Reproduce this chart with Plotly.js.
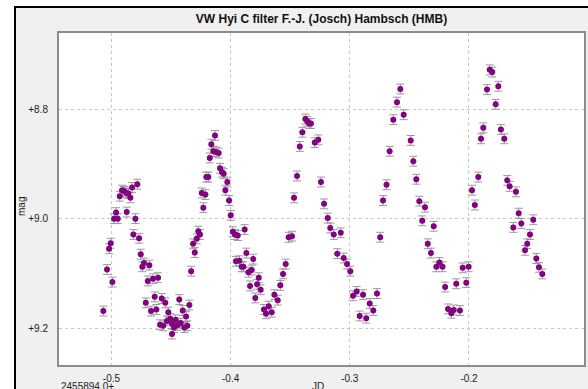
<!DOCTYPE html>
<html>
<head>
<meta charset="utf-8">
<script src="https://cdn.plot.ly/plotly-3.0.1.min.js"></script>
<style>
  html, body { margin: 0; padding: 0; background: #ffffff; width: 588px; height: 389px; overflow: hidden; }
  #frame { position: absolute; left: 14px; top: 6px; width: 600px; height: 400px;
           border-left: 2px solid #000; border-top: 2px solid #000; background: #f0f0f0; }
  #chart { position: absolute; left: 16px; top: 8px; width: 572px; height: 381px; }
</style>
</head>
<body>
<div id="frame"></div>
<div id="chart"></div>
<script>
// Julian date offset from 2455894.0
const jd = [
 -0.5068,-0.5037,-0.5020,-0.5006,-0.4992,-0.4978,-0.4961,-0.4947,-0.4930,-0.4911,
 -0.4892,-0.4872,-0.4872,-0.4858,-0.4841,-0.4827,-0.4816,-0.4799,-0.4783,-0.4768,
 -0.4754,-0.4741,-0.4727,-0.4712,-0.4695,-0.4682,-0.4668,-0.4651,-0.4637,-0.4623,
 -0.4609,-0.4592,-0.4578,-0.4565,-0.4548,-0.4534,-0.4523,-0.4506,-0.4492,-0.4492,
 -0.4475,-0.4461,-0.4447,-0.4431,-0.4419,-0.4402,-0.4389,-0.4374,-0.4363,-0.4346,
 -0.4331,-0.4315,-0.4301,-0.4284,-0.4271,-0.4257,-0.4242,-0.4229,-0.4212,-0.4204,
 -0.4187,-0.4175,-0.4162,-0.4145,-0.4131,-0.4122,-0.4100,-0.4089,-0.4072,-0.4058,
 -0.4044,-0.4028,-0.4013,-0.3999,-0.3982,-0.3963,-0.3955,-0.3940,-0.3927,-0.3907,
 -0.3893,-0.3882,-0.3868,-0.3851,-0.3837,-0.3823,-0.3810,-0.3793,-0.3778,-0.3764,
 -0.3748,-0.3720,-0.3703,-0.3680,-0.3655,-0.3633,-0.3605,-0.3583,-0.3560,-0.3538,
 -0.3513,-0.3485,-0.3468,-0.3443,-0.3420,-0.3398,-0.3373,-0.3357,-0.3342,-0.3326,
 -0.3294,-0.3264,-0.3242,-0.3216,-0.3185,-0.3164,-0.3135,-0.3105,-0.3076,-0.3051,
 -0.3023,-0.2996,-0.2973,-0.2942,-0.2917,-0.2889,-0.2862,-0.2833,-0.2803,-0.2772,
 -0.2745,-0.2721,-0.2692,-0.2666,-0.2635,-0.2604,-0.2576,-0.2548,-0.2489,-0.2467,
 -0.2442,-0.2417,-0.2392,-0.2369,-0.2346,-0.2319,-0.2296,-0.2274,-0.2248,-0.2222,
 -0.2200,-0.2176,-0.2148,-0.2128,-0.2107,-0.2076,-0.2053,-0.2023,-0.2003,-0.1975,
 -0.1951,-0.1922,-0.1899,-0.1880,-0.1849,-0.1826,-0.1805,-0.1776,-0.1754,-0.1732,
 -0.1704,-0.1679,-0.1659,-0.1628,-0.1606,-0.1583,-0.1561,-0.1530,-0.1511,-0.1488,
 -0.1461,-0.1435,-0.1413,-0.1385
];
const mag = [
 9.169,9.093,9.055,9.045,9.116,9.000,8.989,9.000,8.959,8.948,
 8.950,8.953,8.988,8.954,8.962,8.943,9.029,9.000,8.937,9.036,
 9.065,9.088,9.081,9.154,9.114,9.085,9.169,9.110,9.143,9.166,
 9.108,9.194,9.146,9.196,9.154,9.187,9.171,9.183,9.192,9.211,
 9.199,9.185,9.195,9.148,9.191,9.168,9.199,9.179,9.196,9.158,
 9.096,9.046,9.062,9.037,9.023,9.029,8.953,8.980,8.956,8.924,
 8.924,8.889,8.864,8.877,8.848,8.878,8.880,8.908,8.915,8.918,
 8.948,8.933,8.967,8.994,9.024,9.029,9.078,9.031,9.077,9.088,
 9.088,9.020,9.063,9.098,9.123,9.094,9.074,9.145,9.120,9.108,
 9.130,9.166,9.174,9.160,9.171,9.139,9.149,9.122,9.101,9.083,
 9.034,9.032,8.962,8.922,8.868,8.842,8.818,8.822,8.826,8.826,
 8.861,8.856,8.933,8.973,8.999,9.017,9.029,9.064,9.026,9.072,
 9.083,9.096,9.141,9.133,9.178,9.139,9.182,9.155,9.168,9.137,
 9.034,8.967,8.938,8.877,8.819,8.787,8.763,8.810,8.857,8.895,
 8.928,8.968,9.004,8.979,9.046,9.063,9.014,9.088,9.080,9.088,
 9.125,9.165,9.173,9.167,9.119,9.168,9.090,9.117,9.088,8.948,
 8.975,8.924,8.854,8.834,8.764,8.728,8.732,8.791,8.758,8.837,
 8.854,8.930,8.941,9.016,8.951,8.990,9.009,9.058,9.046,9.029,
 9.002,9.073,9.089,9.101
];
const magErr = 0.009;

const chartTitle = 'VW Hyi C filter F.-J. (Josch) Hambsch (HMB)';
const xTickVals = [-0.5, -0.4, -0.3, -0.2];
const xTickText = ['-0.5', '-0.4', '-0.3', '-0.2'];
const yTickVals = [8.8, 9.0, 9.2];
const yTickText = ['+8.8', '+9.0', '+9.2'];
const xLabel = 'JD';
const yLabel = 'mag';
const jdBaseLabel = '2455894.0+';

const tickFont = { family: 'Liberation Sans, Arial, sans-serif', size: 10, color: '#222' };

const trace = {
  x: jd, y: mag, type: 'scatter', mode: 'markers',
  marker: { color: '#800080', size: 6, line: { width: 0 } },
  error_y: { type: 'constant', value: magErr, color: '#9a9a9a', thickness: 1, width: 4 },
  hoverinfo: 'x+y', cliponaxis: false
};

const layout = {
  width: 572, height: 381,
  paper_bgcolor: '#f0f0f0', plot_bgcolor: '#ffffff',
  margin: { l: 43, r: 4, t: 25, b: 24, pad: 0 },
  showlegend: false,
  title: {
    text: '<b>' + chartTitle + '</b>',
    font: { family: 'Liberation Sans, Arial, sans-serif', size: 12, color: '#111' },
    xref: 'paper', x: 0.5, xanchor: 'center',
    yref: 'container', y: 0.971, yanchor: 'middle'
  },
  xaxis: {
    range: [-0.544, -0.1035], tickvals: xTickVals, ticktext: xTickText,
    showgrid: true, gridcolor: '#c8c8c8', griddash: '3px,3px', gridwidth: 1,
    zeroline: false, showline: true, mirror: true, linecolor: '#8c8c8c', linewidth: 2,
    ticks: '', tickfont: tickFont, ticklabelstandoff: 3
  },
  yaxis: {
    range: [9.2676, 8.6606], tickvals: yTickVals, ticktext: yTickText,
    showgrid: true, gridcolor: '#c8c8c8', griddash: '3px,3px', gridwidth: 1,
    zeroline: false, showline: true, mirror: true, linecolor: '#8c8c8c', linewidth: 2,
    ticks: '', tickfont: tickFont, ticklabelstandoff: 7
  },
  annotations: [
    { text: yLabel, xref: 'paper', yref: 'paper', x: -0.0705, y: 0.479, textangle: -90,
      showarrow: false, xanchor: 'center', yanchor: 'middle', font: tickFont },
    { text: xLabel, xref: 'paper', yref: 'paper', x: 0.493, y: -0.064,
      showarrow: false, xanchor: 'center', yanchor: 'middle', font: tickFont },
    { text: jdBaseLabel, xref: 'paper', yref: 'paper', x: 0.0, y: -0.064,
      showarrow: false, xanchor: 'left', yanchor: 'middle', font: tickFont }
  ]
};

Plotly.newPlot('chart', [trace], layout, { displayModeBar: false, staticPlot: true });
</script>
</body>
</html>
